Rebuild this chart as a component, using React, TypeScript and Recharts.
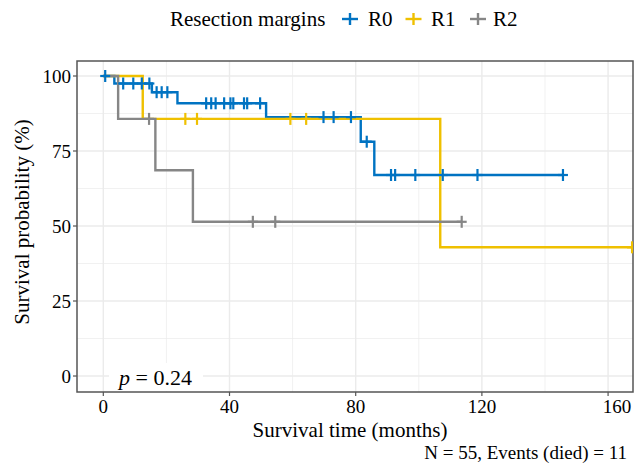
import React from "react";
import { ComposedChart, Line, Scatter, XAxis, YAxis, CartesianGrid, ReferenceArea } from "recharts";

const xTicks = [0, 40, 80, 120, 160];
const xMinor = [20, 60, 100, 140];
const yTicks = [0, 25, 50, 75, 100];
const yMinor = [12.5, 37.5, 62.5, 87.5];

const seriesNames = ["R0", "R1", "R2"];
const seriesColors = ["#0073C2", "#EFC000", "#868686"];

// Kaplan-Meier step curves (time in months, survival %)
const r0Times = [0, 3.5, 15.4, 23.5, 51.6, 81.6, 85.9, 145.7];
const r0Surv = [100, 97.5, 94.6, 90.9, 86.3, 78.1, 67, 67];
const r1Times = [0, 12.5, 106.8, 167.6];
const r1Surv = [100, 85.7, 42.9, 42.9];
const r2Times = [0, 4.7, 16.5, 28.4, 113.6];
const r2Surv = [100, 85.7, 68.6, 51.4, 51.4];

// Censoring times
const r0Censor = [0.6, 6.3, 9.5, 12.2, 14.6, 16.9, 18.5, 20.3, 32.6, 34.2, 35.6, 38.3, 40.3, 41.2, 44.6, 45.6, 49.7, 69.8, 73, 78.5, 83.5, 91.2, 92.5, 98.9, 107.6, 118.6, 145.7];
const r1Censor = [26, 29.7, 59.3, 64.3, 167.6];
const r2Censor = [14.5, 47.4, 54.5, 113.6];

const FONT = '"Liberation Serif", "Times New Roman", serif';

const curve = (times: number[], surv: number[]) => times.map((t, i) => ({ t, s: surv[i] }));
const levelAt = (times: number[], surv: number[], t: number) => {
  let v = surv[0];
  for (let i = 0; i < times.length; i++) if (times[i] <= t) v = surv[i];
  return v;
};
const censorPts = (c: number[], times: number[], surv: number[]) => c.map((t) => ({ t, s: levelAt(times, surv, t) }));

const curves = [curve(r0Times, r0Surv), curve(r1Times, r1Surv), curve(r2Times, r2Surv)];
const censors = [
  censorPts(r0Censor, r0Times, r0Surv),
  censorPts(r1Censor, r1Times, r1Surv),
  censorPts(r2Censor, r2Times, r2Surv),
];

const plus = (color: string) => (props: any) => {
  const { cx, cy } = props;
  if (cx == null || cy == null) return <g />;
  return (
    <g stroke={color} strokeWidth={2.2}>
      <line x1={cx - 5} x2={cx + 5} y1={cy} y2={cy} />
      <line x1={cx} x2={cx} y1={cy - 6} y2={cy + 6} />
    </g>
  );
};

const XTick = (props: any) => {
  const { x, y, payload } = props;
  const dx = payload.value === 160 ? 9 : 0;
  return (
    <text x={x + dx} y={y} dy="0.71em" textAnchor="middle" fill="#000" fontSize={19} fontFamily={FONT}>
      {payload.value}
    </text>
  );
};

export default function App() {
  return (
    <div style={{ position: "absolute", left: 0, top: 0, width: 643, height: 467, background: "#fff" }}>
      <ComposedChart width={643} height={467} margin={{ top: 61, right: 10, bottom: 0, left: 0 }}>
        <CartesianGrid stroke="#EBEBEB" strokeWidth={0.7} verticalValues={xMinor} horizontalValues={yMinor} />
        <CartesianGrid stroke="#EBEBEB" strokeWidth={1.4} verticalValues={xTicks} horizontalValues={yTicks} />
        <XAxis
          dataKey="t"
          type="number"
          domain={[-8.34, 167.9]}
          allowDataOverflow
          ticks={xTicks}
          height={75}
          axisLine={false}
          tickLine={{ stroke: "#555", strokeWidth: 1.2 }}
          tickSize={4}
          tickMargin={4}
          tick={<XTick />}
        />
        <YAxis
          dataKey="s"
          type="number"
          domain={[-5.33, 105]}
          allowDataOverflow
          ticks={yTicks}
          width={77}
          axisLine={false}
          tickLine={{ stroke: "#555", strokeWidth: 1.2 }}
          tickSize={4}
          tickMargin={2}
          tick={{ fill: "#000", fontSize: 19, fontFamily: FONT }}
        />
        {curves.map((d, i) => (
          <Line
            key={seriesNames[i]}
            data={d}
            dataKey="s"
            type="stepAfter"
            stroke={seriesColors[i]}
            strokeWidth={2.4}
            dot={false}
            activeDot={false}
            isAnimationActive={false}
          />
        ))}
        {censors.map((d, i) => (
          <Scatter
            key={"c" + seriesNames[i]}
            data={d}
            dataKey="s"
            shape={plus(seriesColors[i])}
            isAnimationActive={false}
          />
        ))}
        <ReferenceArea x1={-8.34} x2={167.9} y1={-5.33} y2={105} fill="none" stroke="#555" strokeWidth={1.5} ifOverflow="visible" />
      </ComposedChart>
      <svg width={643} height={467} style={{ position: "absolute", left: 0, top: 0, pointerEvents: "none" }}>
        <g fontFamily={FONT} fill="#000">
          <text x={170} y={26} fontSize={21}>Resection margins</text>
          {seriesNames.map((n, i) => {
            const kx = [350, 413.5, 478][i];
            const tx = [368, 431, 493][i];
            return (
              <g key={n}>
                <line x1={kx - 8} x2={kx + 8} y1={19} y2={19} stroke={seriesColors[i]} strokeWidth={2.4} />
                <line x1={kx} x2={kx} y1={13} y2={25} stroke={seriesColors[i]} strokeWidth={2.4} />
                <text x={tx} y={26} fontSize={21}>{n}</text>
              </g>
            );
          })}
          <text x={350} y={437} fontSize={21} textAnchor="middle">Survival time (months)</text>
          <text x={29} y={222} fontSize={21} textAnchor="middle" transform="rotate(-90 29 222)">Survival probability (%)</text>
          <text x={627} y={459} fontSize={19} textAnchor="end">N = 55, Events (died) = 11</text>
          <rect x={109} y={363} width={94} height={28} fill="#fff" />
          <text x={119} y={385} fontSize={22}>
            <tspan fontStyle="italic">p</tspan> = 0.24
          </text>
        </g>
      </svg>
    </div>
  );
}
